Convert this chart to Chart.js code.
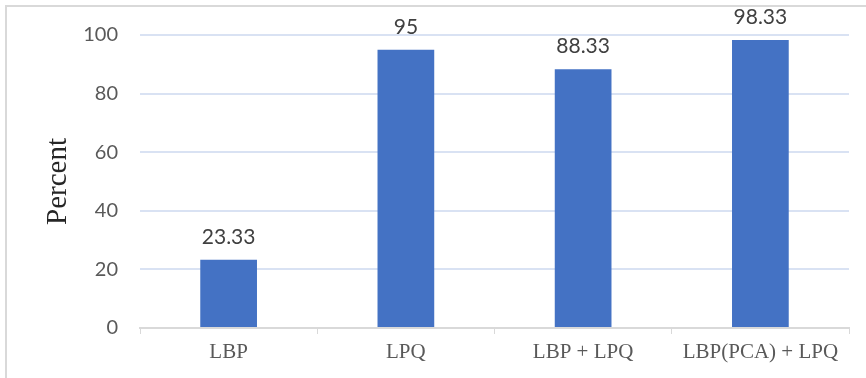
<!DOCTYPE html>
<html>
<head>
<meta charset="utf-8">
<script src="https://cdn.jsdelivr.net/npm/chart.js@4.4.0/dist/chart.umd.min.js"></script>
<style>
  html, body { margin: 0; padding: 0; background: #fff; }
  #wrap { position: relative; width: 866px; height: 378px; }
</style>
</head>
<body>
<div id="wrap"><canvas id="chart" width="866" height="378"></canvas></div>
<script>
var categories = ['LBP', 'LPQ', 'LBP + LPQ', 'LBP(PCA) + LPQ'];
var percentValues = [23.33, 95, 88.33, 98.33];
var valueLabels = ['23.33', '95', '88.33', '98.33'];

// outer frame of the chart box (goes past the bottom/right edge)
var framePlugin = {
    id: 'frame',
    beforeDraw: function (chart) {
        var c = chart.ctx;
        c.save();
        c.strokeStyle = '#d9d9d9';
        c.lineWidth = 2;
        c.strokeRect(6, 6, 1000, 1000);
        c.restore();
    }
};

// numbers above the bars
var valueLabelPlugin = {
    id: 'valueLabels',
    afterDatasetsDraw: function (chart) {
        var c = chart.ctx;
        var meta = chart.getDatasetMeta(0);
        c.save();
        c.font = '21px Lato';
        c.fillStyle = '#404040';
        c.textAlign = 'center';
        c.textBaseline = 'alphabetic';
        meta.data.forEach(function (bar, i) {
            c.fillText(valueLabels[i], bar.x, bar.y - 16);
        });
        c.restore();
    }
};

const ctx = document.getElementById('chart');
const chart = new Chart(ctx, {
    type: 'bar',
    data: {
        labels: categories,
        datasets: [{
            label: 'Percent',
            data: percentValues,
            backgroundColor: '#4472c4',
            borderWidth: 0,
            barPercentage: 0.32,
            categoryPercentage: 1
        }]
    },
    options: {
        responsive: false,
        animation: false,
        layout: {
            padding: { top: 35, right: 17, bottom: 0, left: 0 }
        },
        plugins: {
            legend: { display: false },
            tooltip: { enabled: false }
        },
        scales: {
            x: {
                grid: {
                    drawOnChartArea: false,
                    drawTicks: true,
                    tickLength: 6,
                    color: '#d9d9d9'
                },
                border: { color: '#d9d9d9', width: 2 },
                ticks: {
                    color: '#595959',
                    font: { family: 'Liberation Serif', size: 21 },
                    padding: 6
                },
                afterFit: function (scale) { scale.height = 50; }
            },
            y: {
                min: 0,
                max: 100,
                ticks: {
                    stepSize: 20,
                    color: '#595959',
                    font: { family: 'Lato', size: 20 },
                    padding: 22
                },
                grid: {
                    color: '#d9e2f3',
                    lineWidth: 2,
                    drawTicks: false
                },
                border: { display: false },
                title: {
                    display: true,
                    text: 'Percent',
                    color: '#262626',
                    font: { family: 'Liberation Serif', size: 29 },
                    padding: { top: 41, bottom: 0 }
                },
                afterFit: function (scale) { scale.width = 140; }
            }
        }
    },
    plugins: [framePlugin, valueLabelPlugin]
});
</script>
</body>
</html>
